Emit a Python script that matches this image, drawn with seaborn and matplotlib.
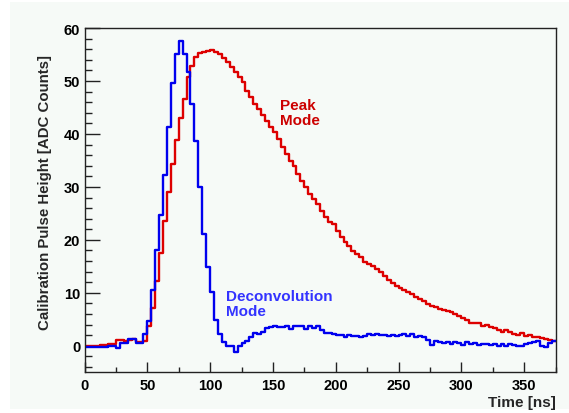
import numpy as np
import pandas as pd
import matplotlib
matplotlib.use("Agg")
import matplotlib.pyplot as plt
from matplotlib.ticker import MultipleLocator
from matplotlib.patches import Rectangle
import seaborn as sns

# ---- data (120 bins of 3.125 ns) ----
bin_width_ns = 3.125
time_ns = np.arange(120) * bin_width_ns  # bin start times

peak_mode = [
    0.0, 0.0, 0.0, 0.0, 0.1, 0.1, 0.3, 0.4, 1.1, 1.1,
    1.0, 1.1, 1.2, 0.8, 0.8, 1.0, 3.8, 7.2, 12.3, 17.5,
    23.5, 29.0, 34.3, 38.9, 43.0, 46.6, 50.8, 52.8, 54.5, 55.2,
    55.4, 55.6, 55.9, 55.4, 55.0, 54.3, 53.5, 52.7, 51.7, 50.8,
    49.8, 48.2, 46.9, 45.6, 44.7, 43.6, 42.5, 41.4, 40.3, 39.0,
    37.5, 36.2, 34.9, 33.9, 32.4, 31.2, 29.9, 28.6, 27.7, 26.8,
    25.5, 24.3, 23.4, 23.0, 21.7, 20.5, 19.6, 18.8, 17.9, 17.3,
    16.7, 15.9, 15.4, 15.1, 14.5, 13.9, 13.1, 12.5, 11.8, 11.3,
    11.0, 10.6, 10.2, 9.8, 9.3, 8.8, 8.5, 7.9, 7.6, 7.3,
    7.0, 6.8, 6.6, 6.3, 6.0, 5.7, 5.2, 4.8, 4.4, 4.4,
    4.3, 3.8, 3.9, 3.5, 3.3, 2.9, 2.7, 3.0, 2.7, 2.2,
    2.0, 2.4, 1.9, 2.0, 1.6, 1.6, 1.4, 1.3, 1.1, 1.0,
]

deconvolution_mode = [
    -0.2, -0.3, -0.3, -0.3, -0.2, -0.2, -0.1, 0.0, -0.4, 0.6,
    0.6, 1.2, 1.2, 0.6, 0.6, 2.2, 4.7, 10.6, 18.1, 24.7,
    32.3, 41.4, 49.7, 55.1, 57.6, 55.1, 51.6, 45.6, 38.6, 30.0,
    21.2, 14.9, 10.2, 4.9, 2.2, 0.8, 0.0, 0.0, -1.2, 0.0,
    0.6, 1.0, 1.6, 2.5, 2.2, 2.7, 3.3, 3.5, 3.7, 3.5,
    3.5, 3.7, 3.2, 3.7, 3.7, 3.7, 3.2, 3.7, 3.3, 3.8,
    3.0, 2.5, 2.4, 2.2, 2.0, 2.0, 1.6, 2.0, 1.8, 1.8,
    1.6, 1.8, 2.2, 2.0, 2.2, 2.0, 2.0, 1.9, 2.0, 1.8,
    2.0, 2.2, 1.8, 2.2, 1.6, 1.9, 1.7, 1.1, 0.2, 1.0,
    0.7, 0.5, 0.7, 0.3, 0.7, 0.5, 0.2, 0.7, 0.3, 0.5,
    0.2, 0.3, 0.3, 0.2, 0.3, 0.0, 0.3, -0.1, 0.3, 0.2,
    -0.1, 0.0, 0.3, 0.5, 0.7, 1.0, -0.1, -0.3, 0.5, 1.0,
]

x_ticks = [0, 50, 100, 150, 200, 250, 300, 350]
y_ticks = [0, 10, 20, 30, 40, 50, 60]

# ---- style ----
sns.set_style("ticks")
plt.rcParams["font.family"] = ["Liberation Sans", "DejaVu Sans"]
plt.rcParams["font.weight"] = "bold"

bg = "#f6faf7"
red_line = "#dd0000"
blue_line = "#0000ee"

fig = plt.figure(figsize=(5.69, 4.14), dpi=100)
fig.patch.set_facecolor("white")
fig.patches.append(Rectangle((10 / 569, 4 / 414), 1 - 10 / 569, 407 / 414,
                             transform=fig.transFigure, facecolor=bg,
                             edgecolor="none", zorder=-5))

ax = fig.add_axes([84.5 / 569, 1 - 373.3 / 414, 471 / 569, 344.3 / 414])
ax.set_facecolor(bg)
ax.set_zorder(2)

centers = time_ns + bin_width_ns / 2
n_bins = len(time_ns)
x_max = n_bins * bin_width_ns

df = pd.DataFrame({"t": centers, "peak": peak_mode, "deconv": deconvolution_mode})

sns.histplot(data=df, x="t", weights="peak", binwidth=bin_width_ns,
             binrange=(0, x_max), element="step", fill=False,
             color=red_line, linewidth=1.7, ax=ax)
sns.histplot(data=df, x="t", weights="deconv", binwidth=bin_width_ns,
             binrange=(0, x_max), element="step", fill=False,
             color=blue_line, linewidth=1.7, ax=ax)

ax.set_xlim(0, 375)
ax.set_ylim(-5, 60)

ax.xaxis.set_major_locator(MultipleLocator(50))
ax.xaxis.set_minor_locator(MultipleLocator(25))
ax.yaxis.set_major_locator(MultipleLocator(10))
ax.yaxis.set_minor_locator(MultipleLocator(2))
ax.set_xticks(x_ticks)
ax.set_yticks(y_ticks)

ax.tick_params(axis="both", which="both", direction="in", top=False,
               right=False, colors="#222222", labelcolor="black",
               labelsize=10.5, width=1.0)
ax.tick_params(axis="x", which="major", length=7.2, pad=4)
ax.tick_params(axis="x", which="minor", length=3.6)
ax.tick_params(axis="y", which="major", length=10.8, pad=3)
ax.tick_params(axis="y", which="minor", length=5.2)
for lab in ax.get_xticklabels() + ax.get_yticklabels():
    lab.set_fontweight("bold")

for sp in ax.spines.values():
    sp.set_visible(True)
    sp.set_color("#222222")
    sp.set_linewidth(1.0)

ax.set_xlabel("Time [ns]", fontsize=11, fontweight="bold", loc="right")
ax.xaxis.set_label_coords(1.0, -0.065)
ax.set_ylabel("Calibration Pulse Height [ADC Counts]", fontsize=10.8,
              fontweight="bold")
ax.yaxis.set_label_coords(-0.084, 0.524)
ax.yaxis.label.set_va("center")

ax.text(155.5, 44.0, "Peak\nMode", color="#cc0000", fontsize=11,
        fontweight="bold", ha="left", va="center", linespacing=1.1)
ax.text(112.5, 8.0, "Deconvolution\nMode", color="#3333ff", fontsize=11,
        fontweight="bold", ha="left", va="center", linespacing=1.1)

fig.savefig("out.png", dpi=100, facecolor=fig.get_facecolor())
